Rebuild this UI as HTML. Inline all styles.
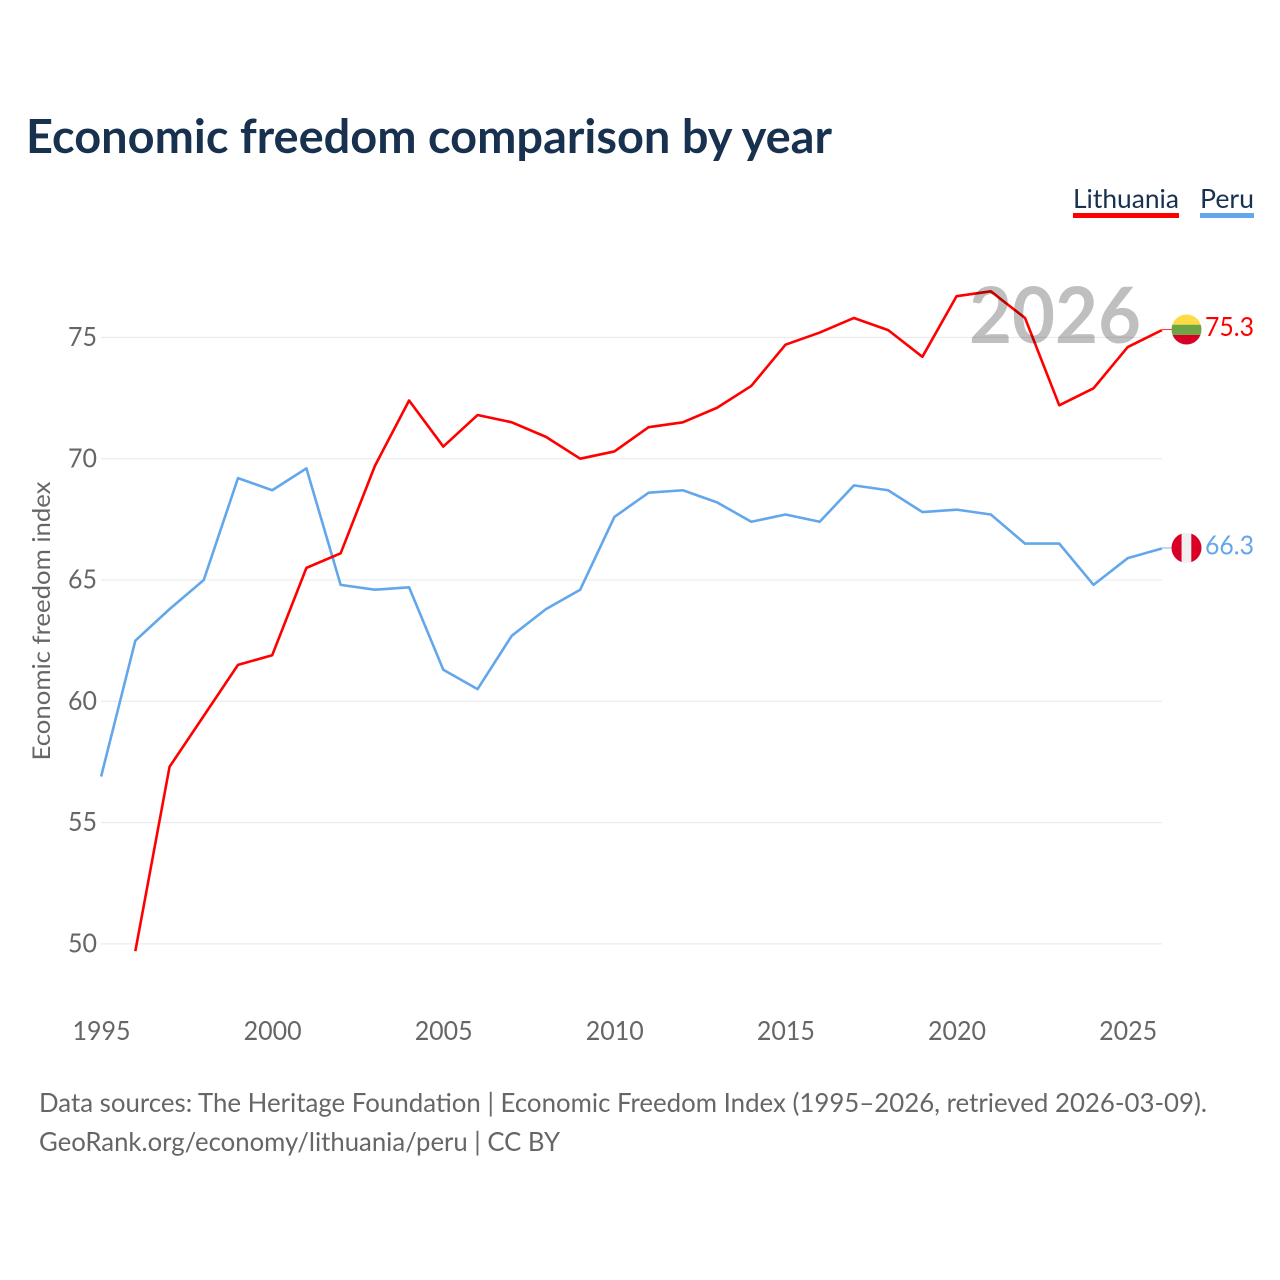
<!DOCTYPE html>
<html lang="en">
<head>
<meta charset="utf-8">
<title>Economic freedom comparison by year</title>
<style>
html,body{margin:0;padding:0;background:#fff;width:1280px;height:1280px;overflow:hidden}
svg{display:block}
text{font-family:"Lato","Carlito","Liberation Sans",sans-serif}
</style>
</head>
<body>
<svg id="chart" xmlns="http://www.w3.org/2000/svg" width="1280" height="1280" viewBox="0 0 1280 1280">
  <rect width="1280" height="1280" fill="#fff"/>
  <text x="26" y="153" font-size="46.5" font-weight="700" fill="#18314f" textLength="806" lengthAdjust="spacingAndGlyphs">Economic freedom comparison by year</text>

  <g>
    <text x="1073" y="208" font-size="26" fill="#18314f" textLength="106" lengthAdjust="spacingAndGlyphs">Lithuania</text>
    <rect x="1073" y="213" width="106" height="5" fill="#ff0000"/>
  </g>
  <g>
    <text x="1200" y="208" font-size="26" fill="#18314f" textLength="54" lengthAdjust="spacingAndGlyphs">Peru</text>
    <rect x="1200" y="213" width="54" height="5" fill="#63a7eb"/>
  </g>

  <text transform="translate(50,621) rotate(-90)" text-anchor="middle" font-size="24" fill="#666" textLength="279" lengthAdjust="spacingAndGlyphs">Economic freedom index</text>

  <g id="grid"></g>
  <g id="yticks"></g>
  <g id="xticks"></g>
  <g id="series"></g>

  <text x="969" y="343" font-size="78" font-weight="700" fill="#000" fill-opacity="0.25" textLength="172" lengthAdjust="spacingAndGlyphs">2026</text>

  <g id="endmarks"></g>

  <text x="39" y="1112" font-size="26" fill="#666" textLength="1168" lengthAdjust="spacingAndGlyphs">Data sources: The Heritage Foundation | Economic Freedom Index (1995–2026, retrieved 2026-03-09).</text>
  <text x="39" y="1151" font-size="26" fill="#666" textLength="521" lengthAdjust="spacingAndGlyphs">GeoRank.org/economy/lithuania/peru | CC BY</text>
</svg>
<script>
const years = [1995,1996,1997,1998,1999,2000,2001,2002,2003,2004,2005,2006,2007,2008,2009,2010,2011,2012,2013,2014,2015,2016,2017,2018,2019,2020,2021,2022,2023,2024,2025,2026];
const lithuania = [null,49.7,57.3,59.4,61.5,61.9,65.5,66.1,69.7,72.4,70.5,71.8,71.5,70.9,70.0,70.3,71.3,71.5,72.1,73.0,74.7,75.2,75.8,75.3,74.2,76.7,76.9,75.8,72.2,72.9,74.6,75.3];
const peru = [56.9,62.5,63.8,65.0,69.2,68.7,69.6,64.8,64.6,64.7,61.3,60.5,62.7,63.8,64.6,67.6,68.6,68.7,68.2,67.4,67.7,67.4,68.9,68.7,67.8,67.9,67.7,66.5,66.5,64.8,65.9,66.3];
const yTicks = [50,55,60,65,70,75];
const xTicks = [1995,2000,2005,2010,2015,2020,2025];

const NS = 'http://www.w3.org/2000/svg';
const xScale = function (yr) { return 101.1 + (yr - 1995) * 34.22; };
const yScale = function (v) { return 337.4 + (75 - v) * 24.26; };

function make(tag, parent, attrs) {
  const el = document.createElementNS(NS, tag);
  for (const k in attrs) el.setAttribute(k, attrs[k]);
  parent.appendChild(el);
  return el;
}

const gridG = document.getElementById('grid');
const yG = document.getElementById('yticks');
yTicks.forEach(function (t) {
  const line = make('line', gridG, {x1: 101, x2: 1162, y1: yScale(t), y2: yScale(t), stroke: '#e8e8ea', 'stroke-width': 1});
  
  
  const label = make('text', yG, {x: 97, y: yScale(t) + 8.6, 'text-anchor': 'end', 'font-size': 26, fill: '#666', textLength: 29, lengthAdjust: 'spacingAndGlyphs'});
  
  
  label.textContent = t;
});

const xG = document.getElementById('xticks');
xTicks.forEach(function (t) {
  const label = make('text', xG, {x: xScale(t) + 0.4, y: 1040, 'text-anchor': 'middle', 'font-size': 26, fill: '#666', textLength: 58, lengthAdjust: 'spacingAndGlyphs'});
  
  
  label.textContent = t;
});

function pathFor(values) {
  let d = '';
  values.forEach(function (v, i) {
    if (v === null) return;
    d += (d ? 'L' : 'M') + xScale(years[i]).toFixed(2) + ' ' + yScale(v).toFixed(2);
  });
  return d;
}

const seriesG = document.getElementById('series');
const peruLine = make('path', seriesG, {d: pathFor(peru), fill: 'none', stroke: '#63a7eb', 'stroke-width': 2.6, 'stroke-linejoin': 'round'});


const lithLine = make('path', seriesG, {d: pathFor(lithuania), fill: 'none', stroke: '#ff0000', 'stroke-width': 2.6, 'stroke-linejoin': 'round'});



const endG = document.getElementById('endmarks');
function endMark(values, color, key, stripes) {
  const last = values[values.length - 1];
  const ly = yScale(last);
  const cy = ly - 0.6;
  const cx = 1186.5;
  const r = 15;
  const conn = make('line', endG, {x1: xScale(2026), x2: 1172, y1: ly - 0.5, y2: cy, stroke: color, 'stroke-width': 1, 'stroke-opacity': 0.8});
  
  
  const clipId = 'clip-' + key;
  const defs = make('defs', endG, {});
  const clip = make('clipPath', defs, {id: clipId});
  make('circle', clip, {cx: cx, cy: cy, r: r});
  const flag = make('g', endG, {'clip-path': 'url(#' + clipId + ')'});
  
  
  stripes.forEach(function (s) {
    make('rect', flag, {x: cx - r + s[0] * 2 * r, y: cy - r + s[1] * 2 * r, width: s[2] * 2 * r, height: s[3] * 2 * r, fill: s[4]});
  });
  const label = make('text', endG, {x: 1254, y: cy + 6.5, 'text-anchor': 'end', 'font-size': 26, fill: color, textLength: 49, lengthAdjust: 'spacingAndGlyphs'});
  
  
  label.textContent = last.toFixed(1);
}
endMark(lithuania, '#ff0000', 'lithuania', [
  [0, 0, 1, 0.34, '#ffda44'],
  [0, 0.34, 1, 0.34, '#6da544'],
  [0, 0.68, 1, 0.32, '#d80027']
]);
endMark(peru, '#63a7eb', 'peru', [
  [0, 0, 0.34, 1, '#d80027'],
  [0.34, 0, 0.32, 1, '#f0f0f0'],
  [0.66, 0, 0.34, 1, '#d80027']
]);
</script>
</body>
</html>
